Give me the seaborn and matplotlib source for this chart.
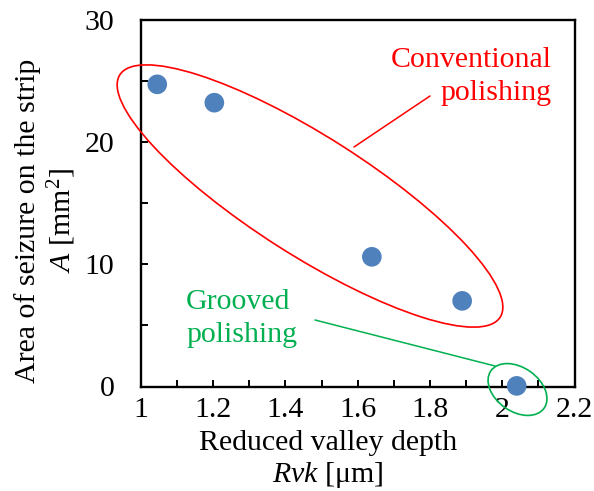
import matplotlib
matplotlib.use("Agg")
import matplotlib.pyplot as plt
from matplotlib.patches import Ellipse
from matplotlib.lines import Line2D
from matplotlib.ticker import MultipleLocator
import seaborn as sns
import pandas as pd

# ---- data ----
rvk = [1.045, 1.203, 1.639, 1.889, 2.040]
area = [24.7, 23.2, 10.6, 7.0, 0.05]
x_ticks = [1.0, 1.2, 1.4, 1.6, 1.8, 2.0, 2.2]
x_tick_labels = ["1", "1.2", "1.4", "1.6", "1.8", "2", "2.2"]
y_ticks = [0, 10, 20, 30]
y_tick_labels = ["0", "10", "20", "30"]

df = pd.DataFrame({"Rvk": rvk, "A": area})

sns.set_theme(style="ticks")
plt.rcParams["font.family"] = ["Liberation Serif", "DejaVu Serif"]
plt.rcParams["mathtext.fontset"] = "custom"
plt.rcParams["mathtext.rm"] = "Liberation Serif"
plt.rcParams["mathtext.it"] = "Liberation Serif:italic"

W, H = 594, 491
fig = plt.figure(figsize=(W / 100, H / 100), dpi=100)
L, R, T, B = 141, 574.5, 19.5, 386.5
ax = fig.add_axes([L / W, 1 - B / H, (R - L) / W, (B - T) / H])

sns.scatterplot(data=df, x="Rvk", y="A", ax=ax, s=200, color="#4F81BD",
                edgecolor="none", linewidth=0, clip_on=False, zorder=5)

ax.set_xlim(1.0, 2.2)
ax.set_ylim(0, 30)
ax.set_xticks(x_ticks)
ax.set_xticklabels(x_tick_labels)
ax.set_yticks(y_ticks)
ax.set_yticklabels(y_tick_labels)
ax.xaxis.set_minor_locator(MultipleLocator(0.1))
ax.yaxis.set_minor_locator(MultipleLocator(5))

fs = 21.5
ax.tick_params(axis="both", which="both", direction="in", length=5, width=1.4,
               color="black", labelsize=fs, labelcolor="black")
ax.tick_params(axis="x", which="major", pad=7.5)
ax.tick_params(axis="y", which="major", pad=19)
ax.tick_params(top=False, right=False, which="both")

for sp in ax.spines.values():
    sp.set_visible(True)
    sp.set_color("black")
    sp.set_linewidth(1.7)

ax.set_xlabel("Reduced valley depth\n$Rvk$ [μm]", fontsize=fs, color="black",
              linespacing=1.2)
ax.set_ylabel("Area of seizure on the strip\n$A$ [mm$^2$]", fontsize=fs,
              color="black", linespacing=1.2)
ax.xaxis.set_label_coords((328 - L) / (R - L), -(430 - B) / (B - T))
ax.yaxis.set_label_coords((78.5 - L) / (R - L), (B - 221) / (B - T))

# ---- annotations (figure pixel space) ----
def fx(x):
    return x / W

def fy(y):
    return 1 - y / H

red = "#FF0000"
green = "#00B050"

fig.text(fx(552), fy(66.7), "Conventional", ha="right", va="baseline",
         fontsize=fs, color=red)
fig.text(fx(552), fy(100), "polishing", ha="right", va="baseline",
         fontsize=fs, color=red)
fig.text(fx(186), fy(309), "Grooved", ha="left", va="baseline",
         fontsize=fs, color=green)
fig.text(fx(186), fy(342), "polishing", ha="left", va="baseline",
         fontsize=fs, color=green)

fig.add_artist(Ellipse((3.10, (H - 196) / 100), 4.51, 1.19, angle=-32.5,
                       transform=fig.dpi_scale_trans, fill=False,
                       edgecolor=red, linewidth=1.2, zorder=6))
fig.add_artist(Ellipse((5.175, (H - 389.5) / 100), 0.65, 0.44, angle=-35,
                       transform=fig.dpi_scale_trans, fill=False,
                       edgecolor=green, linewidth=1.2, zorder=6))

fig.add_artist(Line2D([fx(354), fx(430)], [fy(147), fy(96)],
                      transform=fig.transFigure, color=red, linewidth=1.1))
fig.add_artist(Line2D([fx(315), fx(495)], [fy(320), fy(366)],
                      transform=fig.transFigure, color=green, linewidth=1.1))

fig.savefig("out.png", dpi=100, facecolor="white")
